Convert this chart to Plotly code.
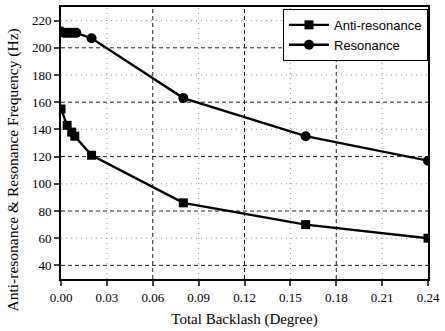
import plotly.graph_objects as go

anti_x = [0.0, 0.004, 0.007, 0.009, 0.02, 0.08, 0.16, 0.24]
anti_y = [155, 143, 138, 135, 121, 86, 70, 60]
res_x = [0.0, 0.002, 0.004, 0.006, 0.008, 0.01, 0.02, 0.08, 0.16, 0.24]
res_y = [212, 211, 211, 211, 211, 211, 207, 163, 135, 117]

x_ticks = [0.00, 0.03, 0.06, 0.09, 0.12, 0.15, 0.18, 0.21, 0.24]
x_labels = ["0.00", "0.03", "0.06", "0.09", "0.12", "0.15", "0.18", "0.21", "0.24"]
y_ticks = [40, 60, 80, 100, 120, 140, 160, 180, 200, 220]

fig = go.Figure()
fig.add_trace(go.Scatter(x=anti_x, y=anti_y, mode="lines+markers", name="Anti-resonance",
                         line=dict(color="black", width=2.4),
                         marker=dict(symbol="square", size=9, color="black")))
fig.add_trace(go.Scatter(x=res_x, y=res_y, mode="lines+markers", name="Resonance",
                         line=dict(color="black", width=2.4),
                         marker=dict(symbol="circle", size=10, color="black")))

serif = "Liberation Serif, Times New Roman, serif"
fig.update_layout(
    width=445, height=331,
    margin=dict(l=61, r=12, t=5, b=52),
    paper_bgcolor="white", plot_bgcolor="white",
    font=dict(family=serif, size=13, color="black"),
    legend=dict(x=1, y=0.993, xanchor="right", yanchor="top",
                bordercolor="black", borderwidth=1, bgcolor="white",
                font=dict(family="Liberation Sans, Arial, sans-serif", size=13),
                tracegroupgap=0, itemwidth=40),
    xaxis=dict(range=[0, 0.24], tickvals=x_ticks, ticktext=x_labels,
               showline=True, linecolor="black", linewidth=2, mirror=True,
               ticks="outside", ticklen=5, tickwidth=1.5, showgrid=False,
               zeroline=False,
               title=dict(text="Total Backlash (Degree)", font=dict(size=15), standoff=10)),
    yaxis=dict(range=[30, 230], tickvals=y_ticks,
               showline=True, linecolor="black", linewidth=2, mirror=True,
               ticks="outside", ticklen=5, tickwidth=1.5, showgrid=False,
               zeroline=False),
)
fig.add_annotation(text="Anti-resonance & Resonance Frequency (Hz)", textangle=-90,
                   xref="paper", yref="paper", x=-0.13, y=0.40,
                   xanchor="center", yanchor="middle", showarrow=False,
                   font=dict(family=serif, size=15.5))
for i, v in enumerate(x_ticks[1:-1], start=1):
    major = (i % 2 == 0)
    fig.add_vline(x=v, line=dict(color="#222222" if major else "#999999",
                                 width=1, dash="4px,3px" if major else "1px,4px"), layer="below")
for i, v in enumerate(y_ticks):
    major = (i % 2 == 0)
    fig.add_hline(y=v, line=dict(color="#222222" if major else "#999999",
                                 width=1, dash="4px,3px" if major else "1px,4px"), layer="below")

fig.write_html("out.html")
